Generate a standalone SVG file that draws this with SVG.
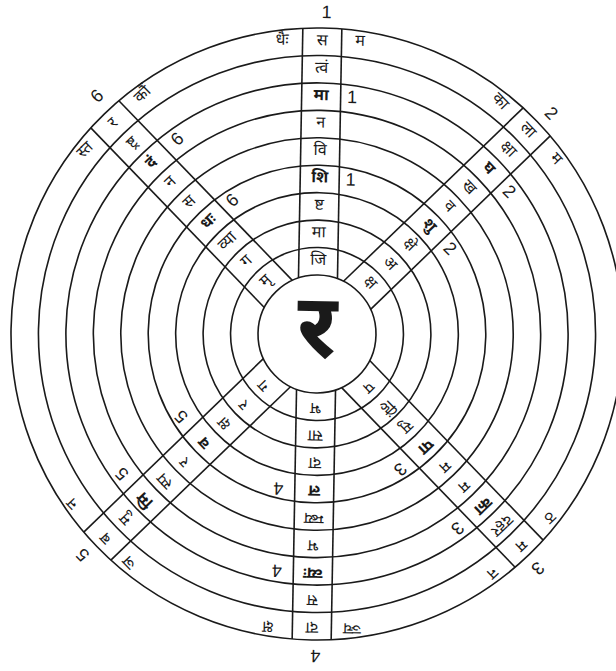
<svg xmlns="http://www.w3.org/2000/svg" width="616" height="671" viewBox="0 0 616 671">
<style>
.ring{fill:none;stroke:#1a1a1a;stroke-width:1.6}
.sp{stroke:#1a1a1a;stroke-width:1.6}
.t{font-family:"Noto Sans Devanagari","Lohit Devanagari","Noto Sans",sans-serif;font-size:16px;text-anchor:middle;dominant-baseline:central;fill:#1a1a1a}
.b{font-weight:bold}
.n{font-family:"Liberation Sans",Arial,sans-serif;font-size:18px;text-anchor:middle;dominant-baseline:central;fill:#1a1a1a}
</style>
<rect width="616" height="671" fill="#fff"/>
<g transform="translate(317 334) rotate(1)">
<g id="rings">
<circle class="ring" r="86.44"/><circle class="ring" r="113.89"/><circle class="ring" r="141.33"/><circle class="ring" r="168.78"/><circle class="ring" r="196.22"/><circle class="ring" r="223.67"/><circle class="ring" r="251.11"/><circle class="ring" r="278.56"/><circle class="ring" r="306"/>
</g>
<g id="connectors">
<g id="sp1" transform="rotate(0)"><line class="sp" x1="-19.5" y1="-55.7" x2="-19.5" y2="-305.4"/><line class="sp" x1="19.5" y1="-55.7" x2="19.5" y2="-305.4"/></g>
<g id="sp2" transform="rotate(45)"><line class="sp" x1="-19.5" y1="-55.7" x2="-19.5" y2="-305.4"/><line class="sp" x1="19.5" y1="-55.7" x2="19.5" y2="-305.4"/></g>
<g id="sp3" transform="rotate(135)"><line class="sp" x1="-19.5" y1="-55.7" x2="-19.5" y2="-305.4"/><line class="sp" x1="19.5" y1="-55.7" x2="19.5" y2="-305.4"/></g>
<g id="sp4" transform="rotate(180)"><line class="sp" x1="-19.5" y1="-55.7" x2="-19.5" y2="-305.4"/><line class="sp" x1="19.5" y1="-55.7" x2="19.5" y2="-305.4"/></g>
<g id="sp5" transform="rotate(225)"><line class="sp" x1="-19.5" y1="-55.7" x2="-19.5" y2="-305.4"/><line class="sp" x1="19.5" y1="-55.7" x2="19.5" y2="-305.4"/></g>
<g id="sp6" transform="rotate(315)"><line class="sp" x1="-19.5" y1="-55.7" x2="-19.5" y2="-305.4"/><line class="sp" x1="19.5" y1="-55.7" x2="19.5" y2="-305.4"/></g>
</g>
<g id="hub">
<circle class="ring" r="59"/>
<text class="t b" x="0" y="1" style="font-size:90px">र</text>
</g>
<g id="spoke-1" transform="rotate(0)">
<text class="t" y="-72.7">जि</text><text class="t" y="-100.2">मा</text><text class="t" y="-127.6">ष्ट</text><text class="t b" y="-155.1">शि</text><text class="t" y="-182.5">वि</text><text class="t" y="-209.9">न</text><text class="t b" y="-237.4">मा</text><text class="t" y="-264.8">त्वं</text><text class="t" y="-292.3">स</text>
<text class="t" x="-40" y="-292.3">धैः</text><text class="t" x="38" y="-292.3">म</text>
<text class="n" x="4" y="-322">1</text><text class="n" x="31" y="-237.4">1</text><text class="n" x="31" y="-155.1">1</text>
</g>
<g id="spoke-2" transform="rotate(45)">
<text class="t" y="-72.7">क्ष</text><text class="t" y="-100.2">अ</text><text class="t" y="-127.6">क्षे</text><text class="t b" y="-155.1">शु</text><text class="t" y="-182.5">व</text><text class="t" y="-209.9">ख</text><text class="t b" y="-237.4">घ</text><text class="t" y="-264.8">क्षा</text><text class="t" y="-292.3">ला</text>
<text class="t" x="-40" y="-292.3">का</text><text class="t" x="40" y="-292.3">म</text>
<text class="n" x="4" y="-322">2</text><text class="n" x="31" y="-237.4">2</text><text class="n" x="31" y="-155.1">2</text>
</g>
<g id="spoke-3" transform="rotate(135)">
<text class="t" y="-72.7">प</text><text class="t" y="-100.2">हिं</text><text class="t" y="-127.6">सु</text><text class="t b" y="-155.1">पा</text><text class="t" y="-182.5">म</text><text class="t" y="-209.9">म</text><text class="t b" y="-237.4">का</text><text class="t" y="-264.8">दहर</text><text class="t" y="-292.3">म</text>
<text class="t" x="-40" y="-292.3">ठ</text><text class="t" x="40" y="-292.3">न</text>
<text class="n" x="4" y="-322">3</text><text class="n" x="34" y="-237.4">3</text><text class="n" x="34" y="-155.1">3</text>
</g>
<g id="spoke-4" transform="rotate(180)">
<text class="t" y="-72.7">भ</text><text class="t" y="-100.2">सा</text><text class="t" y="-127.6">दा</text><text class="t b" y="-155.1">ल</text><text class="t" y="-182.5">म्ब्य</text><text class="t" y="-209.9">भ</text><text class="t b" y="-237.4">व्यः</text><text class="t" y="-264.8">स</text><text class="t" y="-292.3">दा</text>
<text class="t" x="-40" y="-292.3">ञ्च</text><text class="t" x="44" y="-292.3">क्ष</text>
<text class="n" x="-4" y="-322">4</text><text class="n" x="36" y="-237.4">4</text><text class="n" x="36" y="-155.1">4</text>
</g>
<g id="spoke-5" transform="rotate(225)">
<text class="t" y="-72.7">ग</text><text class="t" y="-100.2">र</text><text class="t" y="-127.6">क्ष</text><text class="t b" y="-155.1">व</text><text class="t" y="-182.5">र</text><text class="t" y="-209.9">स्प</text><text class="t b" y="-237.4">मि</text><text class="t" y="-264.8">मु</text><text class="t" y="-292.3">ब</text>
<text class="t" x="-34" y="-292.3">ञ</text><text class="t" x="48" y="-292.3">न</text>
<text class="n" x="4" y="-322">5</text><text class="n" x="35" y="-237.4">5</text><text class="n" x="35" y="-155.1">5</text>
</g>
<g id="spoke-6" transform="rotate(315)">
<text class="t" y="-72.7">मृ</text><text class="t" y="-100.2">ग</text><text class="t" y="-127.6">व्या</text><text class="t b" y="-155.1">धः</text><text class="t" y="-182.5">स</text><text class="t" y="-209.9">न</text><text class="t b" y="-237.4">दं</text><text class="t" y="-264.8">ष्ट्र</text><text class="t" y="-292.3">र</text>
<text class="t" x="-39" y="-292.3">स्त</text><text class="t" x="41" y="-292.3">कौं</text>
<text class="n" x="7" y="-324">6</text><text class="n" x="35" y="-237.4">6</text><text class="n" x="32" y="-155.1">6</text>
</g>
</g>
</svg>
